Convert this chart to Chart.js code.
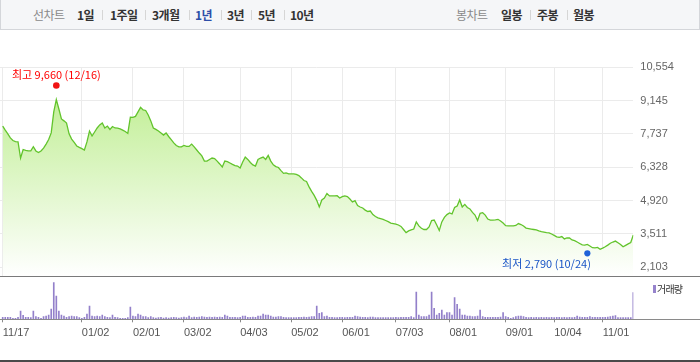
<!DOCTYPE html>
<html><head><meta charset="utf-8">
<script src="https://cdn.jsdelivr.net/npm/chart.js@4.4.1/dist/chart.umd.min.js"></script>
<style>
html,body{margin:0;padding:0;background:#fff;}
body{width:700px;height:362px;position:relative;overflow:hidden;font-family:"Noto Sans CJK KR","Noto Sans",sans-serif;}
#topbar{position:absolute;left:0;top:0;width:698px;height:29px;background:#f5f6f8;border:1px solid #d4d6da;border-top:none;}
#topbar span{position:absolute;top:0;line-height:29px;font-size:12px;font-weight:bold;color:#333;white-space:nowrap;letter-spacing:-0.6px}
#topbar span.lab{color:#8a8a8a;font-weight:normal}
#topbar span.on{color:#2c4ea8}
#topbar i{position:absolute;top:10px;width:1px;height:10px;background:#d6d6d6}
#pc{position:absolute;left:0;top:30px}
#vc{position:absolute;left:0;top:277px}
#sep{position:absolute;left:0;top:276px;width:700px;height:1px;background:#7a7a7a}
#bottom{position:absolute;left:0;top:360px;width:700px;height:2px;background:#4a4a4a}
#lgbox{position:absolute;left:653px;top:285px;width:3px;height:8px;background:#9683cc}
#lgtxt{position:absolute;left:657px;top:282px;font-size:10px;line-height:13px;color:#333;letter-spacing:-0.8px}
</style></head>
<body>
<div id="topbar">
<span class="lab" style="left:32px">선차트</span>
<span style="left:76px">1일</span><i style="left:101px"></i>
<span style="left:109px">1주일</span><i style="left:144px"></i>
<span style="left:151px">3개월</span><i style="left:188px"></i>
<span class="on" style="left:194px">1년</span><i style="left:220px"></i>
<span style="left:226px">3년</span><i style="left:250px"></i>
<span style="left:257px">5년</span><i style="left:283px"></i>
<span style="left:289px">10년</span>
<span class="lab" style="left:455px">봉차트</span>
<span style="left:500px">일봉</span><i style="left:529px"></i>
<span style="left:536px">주봉</span><i style="left:566px"></i>
<span style="left:572px">월봉</span>
</div>
<canvas id="pc" width="700" height="247"></canvas>
<div id="sep"></div>
<canvas id="vc" width="700" height="85"></canvas>
<div id="lgbox"></div><div id="lgtxt">거래량</div>
<div id="bottom"></div>
<script>
// trading days (month, days) from 2022-11-17 to 2023-11-17
const monthDays = [
  [11,[17,18,21,22,23,24,25,28,29,30]],
  [12,[1,2,5,6,7,8,9,12,13,14,15,16,19,20,21,22,23,26,27,28,29]],
  [1,[2,3,4,5,6,9,10,11,12,13,16,17,18,19,20,25,26,27,30,31]],
  [2,[1,2,3,6,7,8,9,10,13,14,15,16,17,20,21,22,23,24,27,28]],
  [3,[2,3,6,7,8,9,10,13,14,15,16,17,20,21,22,23,24,27,28,29,30,31]],
  [4,[3,4,5,6,7,10,11,12,13,14,17,18,19,20,21,24,25,26,27,28]],
  [5,[2,3,4,8,9,10,11,12,15,16,17,18,19,22,23,24,25,26,30,31]],
  [6,[1,2,5,7,8,9,12,13,14,15,16,19,20,21,22,23,26,27,28,29,30]],
  [7,[3,4,5,6,7,10,11,12,13,14,17,18,19,20,21,24,25,26,27,28,31]],
  [8,[1,2,3,4,7,8,9,10,11,14,16,17,18,21,22,23,24,25,28,29,30,31]],
  [9,[1,4,5,6,7,8,11,12,13,14,15,18,19,20,21,22,25,26,27]],
  [10,[4,5,6,10,11,12,13,16,17,18,19,20,23,24,25,26,27,30,31]],
  [11,[1,2,3,6,7,8,9,10,13,14,15,16,17]]
];
const prices = [
  8070,7900,7740,7570,7460,7410,7400,6720,7080,7040,7020,7020,7200,7020,6950,7020,7140,7310,7500,7780,8670,9190,8790,8370,8290,8200,7740,7520,7380,7230,7170,
  7120,7060,7400,7860,7650,7820,7990,8120,8200,7990,8070,7930,8050,7990,7980,7950,7900,7840,7760,8450,8440,8480,8670,8860,8750,8730,8540,8290,7990,7930,7860,7780,7690,7780,7630,7500,7360,7250,7190,7190,
  7250,7210,7210,7310,7190,7060,6930,6810,6590,6590,6660,6720,6700,6590,6470,6340,6590,6570,6510,6450,6400,6380,
  6300,6550,6760,6660,6530,6430,6380,6660,6720,6760,6660,6830,6590,6430,6360,6320,6190,6070,6090,6050,6050,6050,6030,5980,5880,5770,
  5730,5500,5310,5140,4930,4650,4950,5030,5220,5120,5120,5120,5130,5030,5090,5120,5090,4990,4860,4920,4710,4650,4610,4520,4460,4480,4330,4250,4190,4160,4130,4080,4030,3970,3950,
  3930,3890,3830,3700,3570,3640,3680,3720,4020,3850,3750,3700,3700,3810,4080,4100,3890,3660,4020,4210,4330,4400,4360,4630,4690,4950,4650,4760,4630,4570,
  4420,4310,4080,4380,4410,4310,4140,4100,4100,4110,4130,4060,3970,3860,3850,3850,3850,3870,3950,3910,3850,3760,3740,3720,3700,3680,3640,3610,3590,3570,3560,3510,
  3450,3390,3370,3400,3300,3340,3340,3260,3230,3170,3110,3050,3040,3070,3000,2930,2920,2940,2860,2910,2970,3040,3120,3170,3210,3140,3070,2970,3030,3090,3150,3470
];
const volumes = [
  60,60,60,60,30,30,60,250,120,60,60,50,250,80,60,30,80,100,130,310,1100,700,250,130,100,60,80,100,80,80,50,
  30,60,160,400,100,80,100,80,130,80,60,50,130,60,50,30,30,30,50,370,100,80,160,130,80,80,50,80,
  50,40,50,60,40,50,40,50,60,50,40,50,70,50,100,50,
  70,60,70,80,70,60,70,60,70,60,70,
  60,130,100,60,60,60,50,60,100,100,60,60,70,60,100,100,160,130,130,100,70,70,80,80,60,50,50,50,50,50,60,60,70,60,70,80,80,400,180,200,80,100,60,60,50,50,60,60,50,60,
  60,60,100,80,70,60,60,50,70,70,50,50,50,50,50,50,50,50,60,50,60,60,60,60,80,50,
  820,130,80,80,80,130,820,330,130,180,280,130,200,200,130,650,450,310,130,130,100,100,80,80,100,280,80,60,60,60,60,60,60,70,200,80,60,30,50,80,100,100,80,
  60,50,60,50,60,50,60,50,60,50,60,50,60,60,50,60,50,60,50,60,100,70,60,60,60,80,60,60,60,60,60,60,70,80,100,110,50,50,50,50,50,50,800
];
const yTickValues = [2103,3511,4920,6328,7737,9145,10554];
const xTickLabels = ['11/17','01/02','02/01','03/02','04/03','05/02','06/01','07/03','08/01','09/01','10/04','11/01'];
const highValue = 9660, highDate = '12/16';
const lowValue = 2790, lowDate = '10/24';

const pad2 = n => (n < 10 ? '0' : '') + n;
const dates = monthDays.flatMap(([m, ds]) => ds.map(d => pad2(m) + '/' + pad2(d)));
const tickIdx = xTickLabels.map(l => dates.indexOf(l));
const X_MIN = -1.06, X_MAX = dates.length - 1;
const fmt = v => Number(v).toLocaleString('en-US');
const TICKFONT = '"Liberation Sans", Arial, sans-serif';
const KFONT = '"Noto Sans CJK KR", sans-serif';

const annotPlugin = {
  id: 'annot',
  afterDatasetsDraw(chart) {
    const {ctx, scales: {x, y}} = chart;
    ctx.save();
    const hx = x.getPixelForValue(dates.indexOf(highDate));
    const hy = y.getPixelForValue(highValue) - 3;
    ctx.fillStyle = '#f01414';
    ctx.beginPath(); ctx.arc(hx, hy, 3.3, 0, Math.PI * 2); ctx.fill();
    ctx.font = '11px ' + KFONT;
    ctx.textBaseline = 'middle';
    ctx.textAlign = 'center';
    ctx.fillStyle = '#ff0000';
    ctx.fillText('최고 ' + fmt(highValue) + ' (' + highDate + ')', hx, hy - 10.3);
    const lx = x.getPixelForValue(dates.indexOf(lowDate));
    const ly = y.getPixelForValue(lowValue) + 2.3;
    ctx.fillStyle = '#1f62d8';
    ctx.beginPath(); ctx.arc(lx, ly, 3.1, 0, Math.PI * 2); ctx.fill();
    ctx.textAlign = 'right';
    ctx.fillStyle = '#1a55c6';
    ctx.fillText('최저 ' + fmt(lowValue) + ' (' + lowDate + ')', lx + 3.5, ly + 10.3);
    ctx.restore();
  }
};

new Chart(document.getElementById('pc'), {
  type: 'line',
  data: {datasets: [{
    data: prices.map((p, i) => ({x: i, y: p})),
    borderColor: '#62c42c', borderWidth: 1.3, pointRadius: 0, tension: 0,
    fill: 'start',
    backgroundColor: (c) => {
      const a = c.chart.chartArea;
      if (!a) return 'rgba(0,0,0,0)';
      const g = c.chart.ctx.createLinearGradient(0, a.top, 0, a.bottom);
      g.addColorStop(0, 'rgb(184,236,134)');
      g.addColorStop(1, 'rgb(255,255,255)');
      return g;
    }
  }]},
  options: {
    responsive: false, animation: false, events: [],
    layout: {padding: {top: 37.3, bottom: 0.3, left: 0, right: 0}},
    plugins: {legend: {display: false}, tooltip: {enabled: false}},
    scales: {
      x: {type: 'linear', min: X_MIN, max: X_MAX,
        afterBuildTicks: ax => { ax.ticks = tickIdx.map(v => ({value: v})); },
        afterFit: ax => { ax.height = 0; ax.paddingLeft = 0; ax.paddingRight = 0; },
        ticks: {display: false},
        grid: {color: '#ebebeb', drawTicks: false},
        border: {display: false}},
      y: {position: 'right', min: 1705, max: 10554,
        afterBuildTicks: ax => { ax.ticks = yTickValues.map(v => ({value: v})); },
        afterFit: ax => { ax.width = 66.7; ax.paddingTop = 0; ax.paddingBottom = 0; },
        ticks: {padding: 7, color: '#666', font: {size: 11, family: TICKFONT}, callback: v => fmt(v)},
        grid: {color: '#ebebeb', drawTicks: false},
        border: {display: false}}
    }
  },
  plugins: [annotPlugin]
});

const axisLine = {
  id: 'axisLine',
  afterDraw(chart) {
    const {ctx, chartArea} = chart;
    ctx.save();
    ctx.strokeStyle = '#8a8a8a'; ctx.lineWidth = 1;
    const yy = Math.round(chartArea.bottom) + 0.5;
    ctx.beginPath(); ctx.moveTo(0, yy); ctx.lineTo(chart.width, yy); ctx.stroke();
    ctx.restore();
  }
};

new Chart(document.getElementById('vc'), {
  type: 'bar',
  data: {datasets: [{
    data: volumes.map((v, i) => ({x: i, y: v})),
    backgroundColor: '#9380ca', borderWidth: 0, barThickness: 1, grouped: false
  }]},
  options: {
    responsive: false, animation: false, events: [],
    layout: {padding: {top: 2, right: 66.7, left: 0, bottom: 0}},
    plugins: {legend: {display: false}, tooltip: {enabled: false}},
    scales: {
      x: {type: 'linear', min: X_MIN, max: X_MAX, offset: false,
        afterBuildTicks: ax => { ax.ticks = tickIdx.map(v => ({value: v})); },
        afterFit: ax => { ax.height = 42.7; ax.paddingLeft = 0; ax.paddingRight = 0; },
        ticks: {align: 'start', autoSkip: false, maxRotation: 0, minRotation: 0, padding: 4,
          color: '#555', font: {size: 11, family: TICKFONT}, callback: v => dates[v]},
        grid: {offset: false, drawOnChartArea: false, drawTicks: true, tickLength: 3, color: '#8a8a8a'},
        border: {display: false}},
      y: {display: false, min: 0, max: Math.max(...volumes) * 1.1}
    }
  },
  plugins: [axisLine]
});
</script>
</body></html>
